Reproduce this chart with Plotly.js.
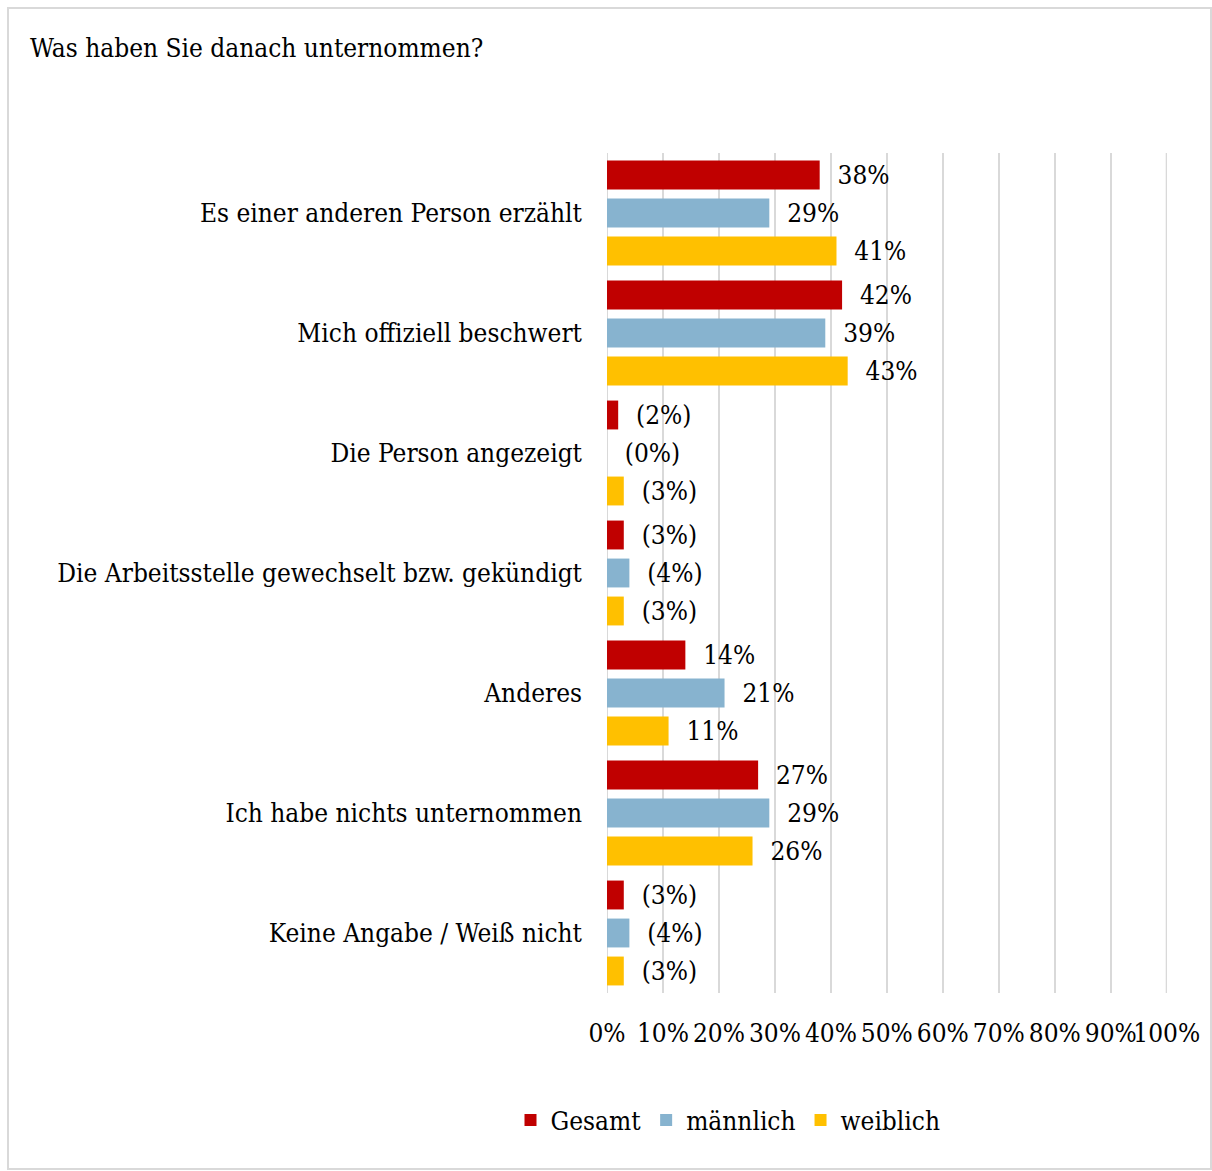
<!DOCTYPE html>
<html><head><meta charset="utf-8">
<script src="https://cdn.plot.ly/plotly-3.0.1.min.js"></script>
<style>
html,body{margin:0;padding:0;background:#fff;}
#wrap{position:relative;width:1212px;height:1171px;}
#chart{width:1212px;height:1171px;}
#frame{position:absolute;left:7px;top:7px;width:1201px;height:1159px;border:2px solid #d9d9d9;pointer-events:none;}
</style></head>
<body>
<div id="wrap"><div id="chart"></div><div id="frame"></div></div>
<script>
const categories = [
  "Es einer anderen Person erzählt",
  "Mich offiziell beschwert",
  "Die Person angezeigt",
  "Die Arbeitsstelle gewechselt bzw. gekündigt",
  "Anderes",
  "Ich habe nichts unternommen",
  "Keine Angabe / Weiß nicht"
];
const gesamt   = [38, 42, 2, 3, 14, 27, 3];
const maennlich = [29, 39, 0, 4, 21, 29, 4];
const weiblich = [41, 43, 3, 3, 11, 26, 3];
const gesamtLabels   = ["38%", "42%", "(2%)", "(3%)", "14%", "27%", "(3%)"];
const maennlichLabels = ["29%", "39%", "(0%)", "(4%)", "21%", "29%", "(4%)"];
const weiblichLabels = ["41%", "43%", "(3%)", "(3%)", "11%", "26%", "(3%)"];
const tickVals = [0, 10, 20, 30, 40, 50, 60, 70, 80, 90, 100];
const tickText = ["0%", "10%", "20%", "30%", "40%", "50%", "60%", "70%", "80%", "90%", "100%"];

const FONT = '"DejaVu Serif Condensed", "DejaVu Serif", serif';
const pad = s => s.map(t => "\u00a0\u00a0" + t);

function mk(name, vals, labels, color) {
  return {
    type: "bar", orientation: "h", name: name,
    x: vals, y: categories,
    text: pad(labels), textposition: "outside", cliponaxis: false,
    constraintext: "none",
    textfont: {family: FONT, size: 26, color: "#000"},
    marker: {color: color},
    hoverinfo: "skip"
  };
}
const data = [
  mk("Gesamt", gesamt, gesamtLabels, "#c00000"),
  mk("männlich", maennlich, maennlichLabels, "#87b3cf"),
  mk("weiblich", weiblich, weiblichLabels, "#ffc000")
];
const edgeLine = v => ({type: "line", xref: "x", yref: "paper", x0: v, x1: v, y0: 0, y1: 1,
            line: {color: "#d9d9d9", width: 2}, layer: "below"});
const layout = {
  width: 1212, height: 1171,
  margin: {l: 607, r: 45, t: 153, b: 178},
  paper_bgcolor: "#fff", plot_bgcolor: "#fff",
  font: {family: FONT, size: 26, color: "#000"},
  barmode: "group", bargap: 0.05, bargroupgap: 0.24,
  title: {text: "Was haben Sie danach unternommen?", xref: "container", yref: "container",
          x: 30/1212, xanchor: "left", y: 1 - 48/1171, yanchor: "middle",
          font: {family: FONT, size: 26, color: "#000"}},
  xaxis: {range: [0, 100.05], tickvals: tickVals, ticktext: tickText, tickangle: 0,
          showgrid: true, gridcolor: "#d9d9d9", gridwidth: 2,
          zeroline: false, showline: false, ticks: "", ticklabelstandoff: 22,
          tickfont: {family: FONT, size: 26, color: "#000"}, fixedrange: true},
  yaxis: {autorange: "reversed", showgrid: false, zeroline: false, showline: false,
          ticks: "", ticklabelstandoff: 24,
          tickfont: {family: FONT, size: 26, color: "#000"}, fixedrange: true},
  shapes: [edgeLine(tickVals[0]), edgeLine(tickVals[tickVals.length - 1])],
  showlegend: true,
  legend: {orientation: "h", x: (728-607)/560, xanchor: "center", y: -127/840, yanchor: "middle",
           font: {family: FONT, size: 26, color: "#000"}, traceorder: "normal",
           itemwidth: 30, tracegroupgap: 0}
};
Plotly.newPlot("chart", data, layout, {displayModeBar: false, staticPlot: true});
</script>
</body></html>
